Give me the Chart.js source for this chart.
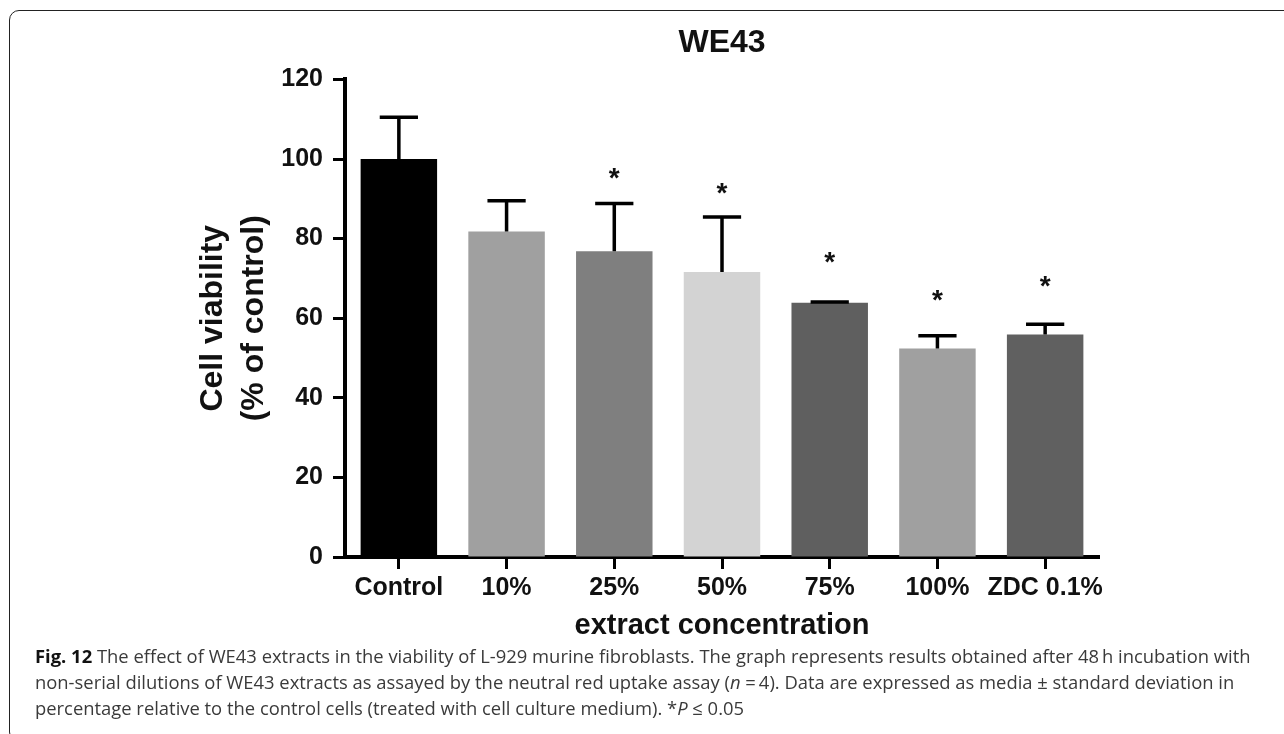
<!DOCTYPE html>
<html>
<head>
<meta charset="utf-8">
<script src="https://cdn.jsdelivr.net/npm/chart.js@4"></script>
<style>
  html, body { margin: 0; padding: 0; background: #fff; }
  body { width: 1284px; height: 734px; position: relative; overflow: hidden; }
  #frame {
    position: absolute; left: 9px; top: 10px; width: 1300px; height: 730px;
    border: 1.5px solid #222; border-radius: 10px;
  }
  #wrap { position: absolute; left: 0; top: 0; width: 1284px; height: 645px; }
  #caption {
    position: absolute; left: 35px; top: 643px;
    font-family: 'Open Sans', sans-serif; font-size: 18.4px; line-height: 26px;
    color: #3a3a3a; white-space: nowrap;
  }
  #caption b { color: #111; }
</style>
</head>
<body>
<div id="frame"></div>
<div id="wrap"><canvas id="barChart"></canvas></div>
<div id="caption"><b>Fig. 12</b> The effect of WE43 extracts in the viability of L-929 murine fibroblasts. The graph represents results obtained after 48&#8201;h incubation with<br>non-serial dilutions of WE43 extracts as assayed by the neutral red uptake assay (<i>n</i> =&#8201;4). Data are expressed as media &#177; standard deviation in<br>percentage relative to the control cells (treated with cell culture medium). *<i>P</i> &#8804; 0.05</div>
<script>
const categories = ['Control', '10%', '25%', '50%', '75%', '100%', 'ZDC 0.1%'];
const viability = [100, 81.8, 76.8, 71.6, 63.9, 52.4, 55.9];
const stdDev = [10.5, 7.7, 12.0, 13.8, 0.2, 3.2, 2.6];
// height (in % units) where the significance star sits; null = no star
const starLevel = [null, null, 96.4, 92.6, 75.2, 65.7, 69.4];

const FONT = "'Liberation Sans', Arial, sans-serif";

const errorBars = {
  id: 'errorBars',
  afterDatasetsDraw(chart) {
    const ctx = chart.ctx;
    const y = chart.scales.y;
    const bars = chart.getDatasetMeta(0).data;
    ctx.save();
    ctx.strokeStyle = '#000';
    ctx.fillStyle = '#111';
    ctx.lineWidth = 3.5;
    bars.forEach((bar, i) => {
      const top = y.getPixelForValue(viability[i]);
      const hi = y.getPixelForValue(viability[i] + stdDev[i]);
      const half = bar.width / 4;
      ctx.beginPath();
      ctx.moveTo(bar.x, top);
      ctx.lineTo(bar.x, hi);
      ctx.moveTo(bar.x - half, hi);
      ctx.lineTo(bar.x + half, hi);
      ctx.stroke();
      if (starLevel[i] != null) {
        ctx.font = 'bold 28px ' + FONT;
        ctx.textAlign = 'center';
        ctx.textBaseline = 'middle';
        ctx.fillText('*', bar.x, y.getPixelForValue(starLevel[i]) + 6);
      }
    });
    ctx.restore();
  }
};

new Chart(barChart, {
  type: 'bar',
  data: {
    labels: categories,
    datasets: [{
      data: viability,
      backgroundColor: ['#000000', '#a0a0a0', '#7f7f7f', '#d3d3d3', '#5f5f5f', '#a0a0a0', '#606060'],
      categoryPercentage: 1,
      barPercentage: 0.71
    }]
  },
  options: {
    responsive: true,
    maintainAspectRatio: false,
    animation: false,
    layout: { padding: { left: 0, right: 185, top: 0, bottom: 0 } },
    plugins: {
      legend: { display: false },
      tooltip: { enabled: false },
      title: {
        display: true,
        text: 'WE43',
        fullSize: false,
        color: '#111',
        font: { family: FONT, size: 32, weight: 'bold' },
        padding: { top: 24, bottom: 17 }
      }
    },
    scales: {
      x: {
        afterFit: (s) => { s.height = 88; },
        grid: { offset: false, drawOnChartArea: false, drawTicks: true, tickLength: 12, tickWidth: 3, tickColor: '#000' },
        border: { display: true, color: '#000', width: 4 },
        ticks: { color: '#111', padding: 4, maxRotation: 0, minRotation: 0, autoSkip: false, font: { family: FONT, size: 25, weight: 'bold' } },
        title: {
          display: true,
          text: 'extract concentration',
          color: '#111',
          font: { family: FONT, size: 29, weight: 'bold' },
          padding: { top: 0, bottom: 2 }
        }
      },
      y: {
        min: 0,
        max: 120,
        afterFit: (s) => { s.width = 345; },
        grid: { drawOnChartArea: false, drawTicks: true, tickLength: 12, tickWidth: 3, tickColor: '#000' },
        border: { display: true, color: '#000', width: 4 },
        ticks: { stepSize: 20, color: '#111', padding: 10, font: { family: FONT, size: 25, weight: 'bold' } },
        title: {
          display: true,
          text: ['Cell viability', '(% of control)'],
          color: '#111',
          font: { family: FONT, size: 32, weight: 'bold', lineHeight: 1.28 },
          padding: { top: 193, bottom: 0 }
        }
      }
    }
  },
  plugins: [errorBars]
});
</script>
</body>
</html>
